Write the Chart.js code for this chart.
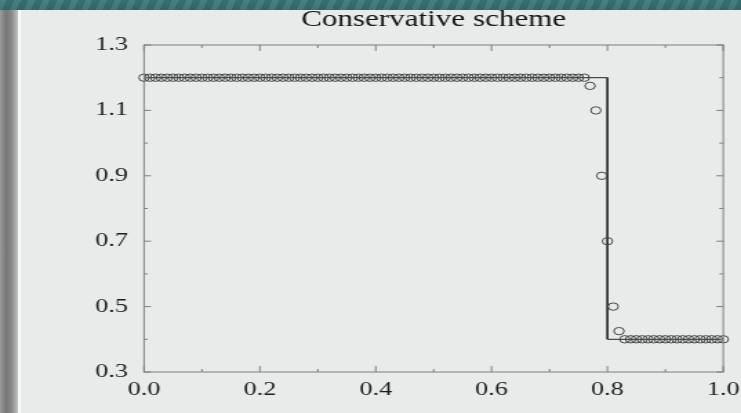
<!DOCTYPE html>
<html>
<head>
<meta charset="utf-8">
<title>Conservative scheme</title>
<script src="https://cdn.jsdelivr.net/npm/chart.js@4/dist/chart.umd.min.js"></script>
<style>
  html, body { margin: 0; padding: 0; }
  body {
    width: 741px; height: 413px; overflow: hidden; position: relative;
    background: #e9ebea;
  }
  #band {
    position: absolute; left: 0; top: 0; width: 741px; height: 10px;
    background:
      repeating-linear-gradient(115deg, rgba(255,255,255,0.06) 0 6px, rgba(0,0,0,0.07) 6px 13px),
      linear-gradient(#3d7777, #336d6e);
  }
  #sidebar {
    position: absolute; left: 0; top: 10px; width: 18px; height: 403px;
    background: linear-gradient(90deg, #9a9a9a 0%, #777 35%, #8a8a8a 65%, #c4c4c4 100%);
  }
  #sidegap {
    position: absolute; left: 18px; top: 10px; width: 3px; height: 403px;
    background: #f7f7f7;
  }
  /* the figure is drawn narrow and widened horizontally */
  #wrap {
    position: absolute; left: 0; top: 0; width: 543px; height: 413px;
    transform: scaleX(1.38); transform-origin: 0 0;
  }
</style>
</head>
<body>
<div id="band"></div>
<div id="sidebar"></div>
<div id="sidegap"></div>
<div id="wrap"><canvas id="chart"></canvas></div>
<script>
// grid positions of the numerical solution
const xGrid = [
  0.00, 0.01, 0.02, 0.03, 0.04, 0.05, 0.06, 0.07, 0.08, 0.09,
  0.10, 0.11, 0.12, 0.13, 0.14, 0.15, 0.16, 0.17, 0.18, 0.19,
  0.20, 0.21, 0.22, 0.23, 0.24, 0.25, 0.26, 0.27, 0.28, 0.29,
  0.30, 0.31, 0.32, 0.33, 0.34, 0.35, 0.36, 0.37, 0.38, 0.39,
  0.40, 0.41, 0.42, 0.43, 0.44, 0.45, 0.46, 0.47, 0.48, 0.49,
  0.50, 0.51, 0.52, 0.53, 0.54, 0.55, 0.56, 0.57, 0.58, 0.59,
  0.60, 0.61, 0.62, 0.63, 0.64, 0.65, 0.66, 0.67, 0.68, 0.69,
  0.70, 0.71, 0.72, 0.73, 0.74, 0.75, 0.76, 0.77, 0.78, 0.79,
  0.80, 0.81, 0.82, 0.83, 0.84, 0.85, 0.86, 0.87, 0.88, 0.89,
  0.90, 0.91, 0.92, 0.93, 0.94, 0.95, 0.96, 0.97, 0.98, 0.99,
  1.00
];
// conservative scheme values at the grid points
const numericValues = [
  1.2, 1.2, 1.2, 1.2, 1.2, 1.2, 1.2, 1.2, 1.2, 1.2,
  1.2, 1.2, 1.2, 1.2, 1.2, 1.2, 1.2, 1.2, 1.2, 1.2,
  1.2, 1.2, 1.2, 1.2, 1.2, 1.2, 1.2, 1.2, 1.2, 1.2,
  1.2, 1.2, 1.2, 1.2, 1.2, 1.2, 1.2, 1.2, 1.2, 1.2,
  1.2, 1.2, 1.2, 1.2, 1.2, 1.2, 1.2, 1.2, 1.2, 1.2,
  1.2, 1.2, 1.2, 1.2, 1.2, 1.2, 1.2, 1.2, 1.2, 1.2,
  1.2, 1.2, 1.2, 1.2, 1.2, 1.2, 1.2, 1.2, 1.2, 1.2,
  1.2, 1.2, 1.2, 1.2, 1.2, 1.2, 1.2, 1.175, 1.1, 0.9,
  0.7, 0.5, 0.425, 0.4, 0.4, 0.4, 0.4, 0.4, 0.4, 0.4,
  0.4, 0.4, 0.4, 0.4, 0.4, 0.4, 0.4, 0.4, 0.4, 0.4,
  0.4
];
// exact (step) solution
const exactX = [0.0, 0.8, 0.8, 1.0];
const exactY = [1.2, 1.2, 0.4, 0.4];

// axis ticks
const xTickValues = [0.0, 0.2, 0.4, 0.6, 0.8, 1.0];
const xMinorTicks = [0.1, 0.3, 0.5, 0.7, 0.9];
const yTickValues = [0.3, 0.5, 0.7, 0.9, 1.1, 1.3];
const yMinorTicks = [0.4, 0.6, 0.8, 1.0, 1.2];

const titleText = 'Conservative scheme';

const SERIF = '"Liberation Serif", "DejaVu Serif", serif';
const FRAME = '#7d7d7d';

// frame with inward tick marks on all four sides
const frameTicks = {
  id: 'frameTicks',
  afterDatasetsDraw(chart) {
    const { ctx, chartArea: a, scales: { x, y } } = chart;
    ctx.save();
    ctx.strokeStyle = FRAME;
    ctx.lineWidth = 1;
    ctx.strokeRect(a.left, a.top, a.right - a.left, a.bottom - a.top);
    ctx.beginPath();
    const xt = (v, len) => {
      const px = x.getPixelForValue(v);
      ctx.moveTo(px, a.bottom); ctx.lineTo(px, a.bottom - len);
      ctx.moveTo(px, a.top); ctx.lineTo(px, a.top + len);
    };
    const yt = (v, len) => {
      const py = y.getPixelForValue(v);
      ctx.moveTo(a.left, py); ctx.lineTo(a.left + len, py);
      ctx.moveTo(a.right, py); ctx.lineTo(a.right - len, py);
    };
    xTickValues.forEach(v => xt(v, 6));
    xMinorTicks.forEach(v => xt(v, 3));
    yTickValues.forEach(v => yt(v, 5));
    yMinorTicks.forEach(v => yt(v, 2.8));
    ctx.stroke();
    ctx.restore();
  }
};

const numericPoints = xGrid.map((x, i) => ({ x, y: numericValues[i] }));
const exactPoints = exactX.map((x, i) => ({ x, y: exactY[i] }));

new Chart(document.getElementById('chart'), {
  type: 'scatter',
  data: {
    datasets: [
      {
        label: 'numerical',
        data: numericPoints,
        showLine: false,
        pointStyle: 'circle',
        pointRadius: 3.7,
        pointBorderWidth: 1,
        pointBorderColor: '#444',
        pointBackgroundColor: 'rgba(0,0,0,0)',
        clip: false
      },
      {
        label: 'exact',
        data: exactPoints,
        showLine: true,
        borderColor: '#262626',
        borderWidth: 1,
        pointRadius: 0,
        tension: 0,
        fill: false
      }
    ]
  },
  plugins: [frameTicks],
  options: {
    responsive: true,
    maintainAspectRatio: false,
    animation: false,
    layout: { padding: { left: 0, right: 13.8, top: 0, bottom: 0 } },
    plugins: {
      legend: { display: false },
      tooltip: { enabled: false },
      title: {
        display: true,
        text: titleText,
        fullSize: false,
        color: '#141414',
        font: { family: SERIF, size: 22.5, weight: 'normal', lineHeight: 1.2 },
        padding: { top: 7, bottom: 11 }
      }
    },
    scales: {
      x: {
        type: 'linear',
        min: 0, max: 1,
        grid: { display: false, drawTicks: false },
        border: { display: false },
        afterBuildTicks(scale) { scale.ticks = xTickValues.map(v => ({ value: v })); },
        afterFit(scale) { scale.height = 41; },
        ticks: {
          padding: 7,
          color: '#1c1c1c',
          font: { family: SERIF, size: 19 },
          maxRotation: 0,
          callback: v => v.toFixed(1)
        }
      },
      y: {
        type: 'linear',
        min: 0.3, max: 1.3,
        grid: { display: false, drawTicks: false },
        border: { display: false },
        afterBuildTicks(scale) { scale.ticks = yTickValues.map(v => ({ value: v })); },
        afterFit(scale) { scale.width = 104.35; },
        ticks: {
          padding: 11.5,
          color: '#1c1c1c',
          font: { family: SERIF, size: 19 },
          callback: v => v.toFixed(1)
        }
      }
    }
  }
});
</script>
</body>
</html>
